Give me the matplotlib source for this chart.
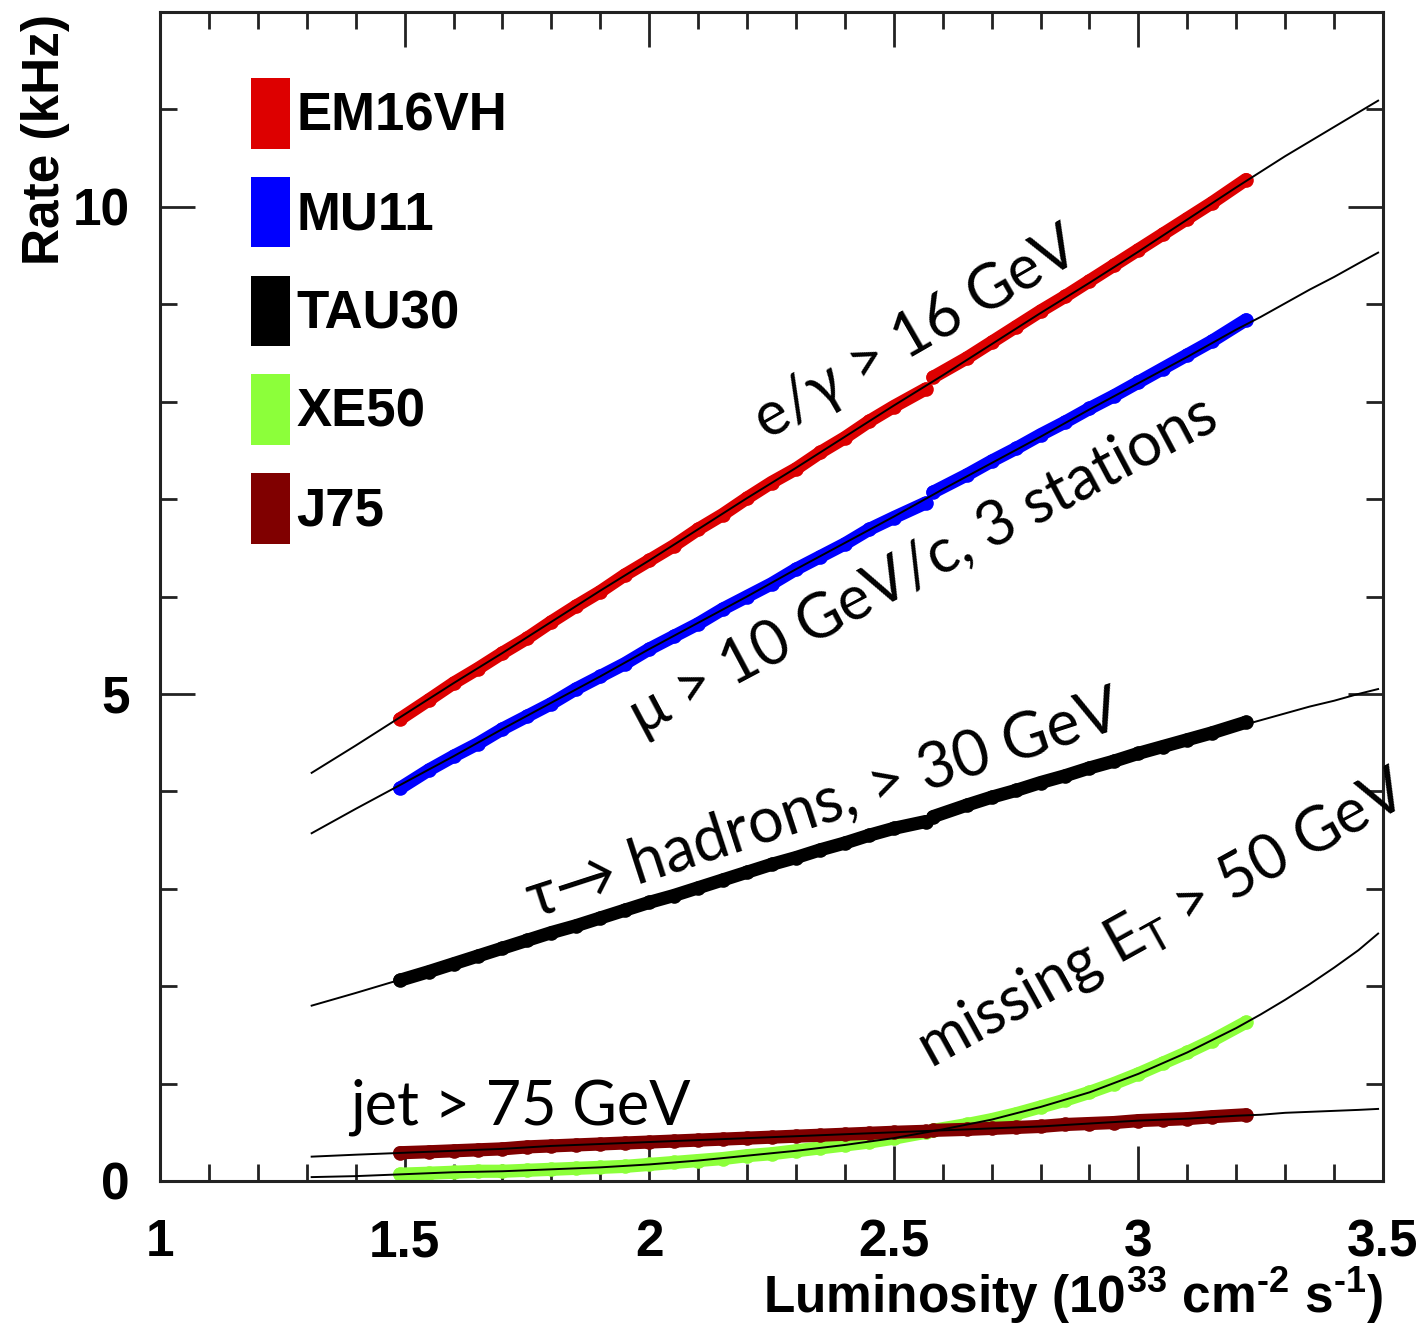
import matplotlib
matplotlib.use("Agg")
import matplotlib.pyplot as plt
from matplotlib.patches import Patch
from matplotlib.ticker import MultipleLocator

plt.rcParams["font.family"] = ["Liberation Sans", "DejaVu Sans"]
plt.rcParams["font.weight"] = "bold"
plt.rcParams["mathtext.default"] = "regular"

# ---- measured trigger rates (kHz) vs instantaneous luminosity (1e33 cm^-2 s^-1)
LUMI_A = [1.49, 1.55, 1.60, 1.65, 1.70, 1.75, 1.80, 1.85, 1.90, 1.95, 2.00,
          2.05, 2.10, 2.15, 2.20, 2.25, 2.30, 2.35, 2.40, 2.45, 2.50, 2.565]
LUMI_B = [2.58, 2.65, 2.70, 2.75, 2.80, 2.85, 2.90, 2.95, 3.00, 3.05, 3.10,
          3.15, 3.22]

EM16VH_A = [4.74, 4.94, 5.11, 5.26, 5.42, 5.57, 5.74, 5.90, 6.05, 6.22, 6.37,
            6.52, 6.69, 6.84, 7.01, 7.17, 7.31, 7.48, 7.63, 7.80, 7.95, 8.13]
EM16VH_B = [8.25, 8.45, 8.61, 8.77, 8.93, 9.08, 9.24, 9.40, 9.56, 9.72, 9.88,
            10.04, 10.28]

MU11_A = [4.03, 4.22, 4.36, 4.49, 4.64, 4.77, 4.90, 5.05, 5.18, 5.31, 5.46,
          5.59, 5.72, 5.87, 6.00, 6.13, 6.28, 6.41, 6.54, 6.69, 6.81, 6.96]
MU11_B = [7.07, 7.25, 7.39, 7.52, 7.66, 7.79, 7.93, 8.06, 8.20, 8.34, 8.48,
          8.62, 8.84]

TAU30_A = [2.06, 2.15, 2.23, 2.31, 2.39, 2.47, 2.55, 2.62, 2.70, 2.78, 2.86,
           2.93, 3.01, 3.09, 3.17, 3.25, 3.32, 3.40, 3.47, 3.55, 3.62, 3.69]
TAU30_B = [3.74, 3.86, 3.94, 4.01, 4.09, 4.16, 4.24, 4.31, 4.39, 4.46, 4.53,
           4.60, 4.71]

XE50_A = [0.07, 0.08, 0.09, 0.10, 0.10, 0.11, 0.12, 0.13, 0.14, 0.15, 0.17,
          0.19, 0.21, 0.23, 0.26, 0.28, 0.31, 0.34, 0.37, 0.40, 0.44, 0.50]
XE50_B = [0.52, 0.58, 0.63, 0.69, 0.76, 0.83, 0.91, 1.00, 1.10, 1.21, 1.32,
          1.44, 1.63]

J75_A = [0.29, 0.30, 0.31, 0.32, 0.33, 0.35, 0.36, 0.37, 0.38, 0.39, 0.40,
         0.41, 0.42, 0.43, 0.44, 0.45, 0.46, 0.47, 0.48, 0.49, 0.50, 0.51]
J75_B = [0.52, 0.53, 0.54, 0.55, 0.56, 0.58, 0.59, 0.60, 0.62, 0.63, 0.64,
         0.66, 0.68]

# ---- fitted rate curves, sampled over the extrapolation range
LUMI_FIT = [1.31, 1.4, 1.5, 1.6, 1.7, 1.8, 1.9, 2.0, 2.1, 2.2, 2.3, 2.4, 2.5,
            2.6, 2.7, 2.8, 2.9, 3.0, 3.1, 3.2, 3.25, 3.3, 3.35, 3.4, 3.45,
            3.49]
EM16VH_FIT = [4.19, 4.47, 4.79, 5.11, 5.42, 5.74, 6.06, 6.37, 6.69, 7.01, 7.32,
              7.64, 7.96, 8.27, 8.59, 8.91, 9.22, 9.54, 9.87, 10.20, 10.36,
              10.52, 10.67, 10.82, 10.97, 11.09]
MU11_FIT = [3.57, 3.82, 4.09, 4.36, 4.64, 4.91, 5.18, 5.46, 5.73, 6.00, 6.28,
            6.55, 6.82, 7.10, 7.37, 7.64, 7.92, 8.19, 8.46, 8.74, 8.87, 9.01,
            9.15, 9.28, 9.42, 9.53]
TAU30_FIT = [1.80, 1.93, 2.08, 2.24, 2.39, 2.55, 2.70, 2.86, 3.02, 3.17, 3.33,
             3.48, 3.63, 3.78, 3.93, 4.08, 4.23, 4.38, 4.52, 4.66, 4.73, 4.80,
             4.87, 4.93, 5.00, 5.05]
XE50_FIT = [0.04, 0.05, 0.07, 0.09, 0.10, 0.12, 0.14, 0.17, 0.21, 0.26, 0.31,
            0.37, 0.44, 0.53, 0.63, 0.76, 0.91, 1.10, 1.32, 1.57, 1.71, 1.86,
            2.02, 2.19, 2.37, 2.54]
J75_FIT = [0.25, 0.27, 0.29, 0.31, 0.33, 0.36, 0.38, 0.40, 0.42, 0.44, 0.46,
           0.48, 0.50, 0.52, 0.54, 0.56, 0.59, 0.62, 0.64, 0.67, 0.68, 0.70,
           0.71, 0.72, 0.73, 0.74]

TRIGGERS = ["EM16VH", "MU11", "TAU30", "XE50", "J75"]
COLORS = ["#dd0000", "#0000ff", "#000000", "#8cff3a", "#800000"]
SERIES = [(EM16VH_A, EM16VH_B, EM16VH_FIT), (MU11_A, MU11_B, MU11_FIT),
          (TAU30_A, TAU30_B, TAU30_FIT), (XE50_A, XE50_B, XE50_FIT),
          (J75_A, J75_B, J75_FIT)]

X_TICKS = [1, 1.5, 2, 2.5, 3, 3.5]
X_TICK_LABELS = ["1", "1.5", "2", "2.5", "3", "3.5"]
Y_TICKS = [0, 5, 10]
Y_TICK_LABELS = ["0", "5", "10"]

fig = plt.figure(figsize=(14.25, 13.27), dpi=100)
ax = fig.add_axes([160 / 1425, 1 - 1181 / 1327, 1223 / 1425, 1169 / 1327])
ax.set_xlim(1, 3.5)
ax.set_ylim(0, 12)

# measured points: dense beads along each run period
for (ya, yb, _), col in zip(SERIES, COLORS):
    for xs, ys in ((LUMI_A, ya), (LUMI_B, yb)):
        ax.plot(xs, ys, color=col, lw=9.5, solid_capstyle="round", zorder=2)
        ax.plot(xs, ys, ls="none", marker="o", ms=10.5, mec="none",
                color=col, zorder=2)

# fitted curves on top
for (_, _, yf) in SERIES:
    ax.plot(LUMI_FIT, yf, color="black", lw=1.4, zorder=3)

# axes styling
ax.set_xticks(X_TICKS)
ax.set_xticklabels(X_TICK_LABELS)
ax.set_yticks(Y_TICKS)
ax.set_yticklabels(Y_TICK_LABELS)
ax.xaxis.set_minor_locator(MultipleLocator(0.1))
ax.yaxis.set_minor_locator(MultipleLocator(1))
ax.tick_params(which="both", direction="in", top=True, right=True, width=2.0,
               color="#222222")
ax.tick_params(which="major", length=25)
ax.tick_params(which="minor", length=12.5)
ax.tick_params(axis="x", which="major", labelsize=37, pad=27)
ax.tick_params(axis="y", which="major", labelsize=37, pad=22)
for sp in ax.spines.values():
    sp.set_linewidth(2.2)
    sp.set_color("#222222")

fig.text(45 / 1425, 1 - 14 / 1327, "Rate (kHz)", rotation=90, ha="center",
         va="top", fontsize=37, fontweight="bold")
fig.text(1383 / 1425, 1 - 1313 / 1327,
         "Luminosity (10$^{33}$ cm$^{\u2010" + "2}$ s$^{\u2010" + "1}$)",
         ha="right", va="baseline", fontsize=37, fontweight="bold")

# legend of trigger items
handles = [Patch(facecolor=c, edgecolor="none", label=t)
           for t, c in zip(TRIGGERS, COLORS)]
ax.legend(handles=handles, loc="upper left",
          bbox_to_anchor=(91 / 1223, (1181 - 78) / 1169),
          bbox_transform=ax.transAxes, frameon=False,
          prop={"weight": "bold", "size": 38}, handlelength=0.74,
          handleheight=1.68, handletextpad=0.12, labelspacing=0.535,
          borderpad=0, borderaxespad=0)

# physics-object annotations
NOTE_FONT = ["Lato", "DejaVu Sans"]
note = dict(family=NOTE_FONT, fontweight="normal", fontsize=44,
            ha="center", va="center", rotation_mode="anchor")
ax.text(2.547, 8.69, "e/\u03b3 > 16 GeV", rotation=30, **note)
ax.text(2.561, 6.32, "\u03bc > 10 GeV/c, 3 stations", rotation=28, **note)
ax.text(2.357, 3.86, "\u03c4\u2192 hadrons, > 30 GeV", rotation=18,
        fontsize=45, **{k: v for k, v in note.items() if k != "fontsize"})
ax.text(3.050, 2.68, r"missing E$_T$ > 50 GeV", rotation=29, clip_on=False,
        **note)
ax.text(1.388, 0.575, "jet > 75 GeV", family=NOTE_FONT,
        fontweight="normal", fontsize=44, ha="left", va="baseline")

fig.savefig("out.png", dpi=100)
